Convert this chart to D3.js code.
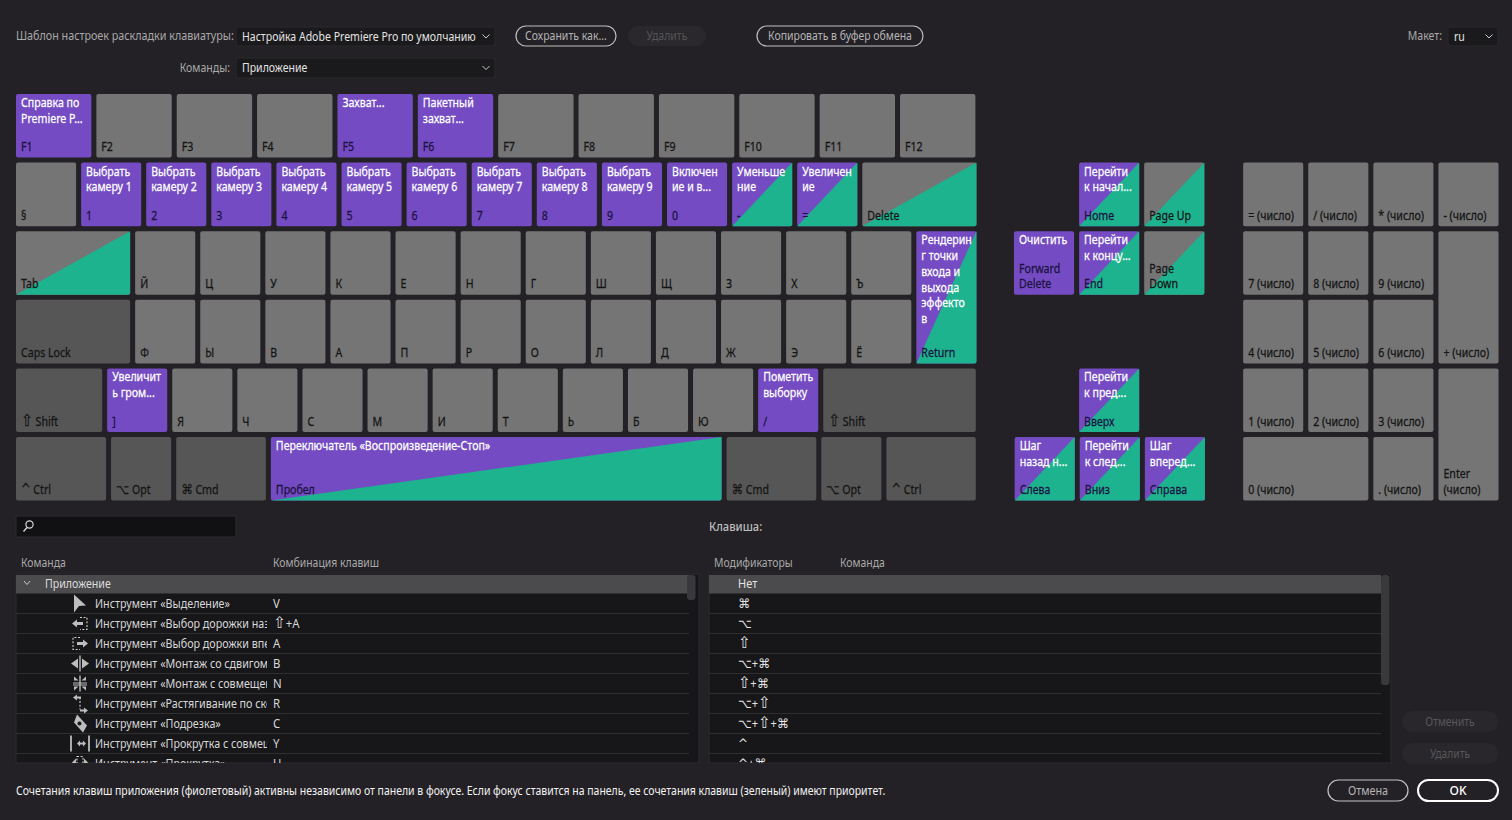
<!DOCTYPE html>
<html>
<head>
<meta charset="utf-8">
<script src="https://cdn.jsdelivr.net/npm/d3@7"></script>
<style>
  html, body { margin: 0; padding: 0; background: #232125; overflow: hidden; }
  svg { display: block; }
  text { font-family: "Noto Sans", "DejaVu Sans", sans-serif; white-space: pre; }
  tspan.sym { font-family: "DejaVu Sans", sans-serif; }
</style>
</head>
<body>
<div id="chart"></div>
<script>
/* ─── Data ─────────────────────────────────────────────────────────── */
const row1Keys = ['F1','F2','F3','F4','F5','F6','F7','F8','F9','F10','F11','F12'];
const row2Keys = ['§','1','2','3','4','5','6','7','8','9','0','-','=','Delete'];
const row3Keys = ['Tab','Й','Ц','У','К','Е','Н','Г','Ш','Щ','З','Х','Ъ','Return'];
const row4Keys = ['Caps Lock','Ф','Ы','В','А','П','Р','О','Л','Д','Ж','Э','Ё'];
const row5Keys = ['⇧ Shift',']','Я','Ч','С','М','И','Т','Ь','Б','Ю','/','⇧ Shift'];
const row6Keys = ['^ Ctrl','⌥ Opt','⌘ Cmd','Пробел','⌘ Cmd','⌥ Opt','^ Ctrl'];
const navRow2Keys = ['Home','Page Up'];
const navRow3Keys = ['Forward\nDelete','End','Page\nDown'];
const navRow5Keys = ['Вверх'];
const navRow6Keys = ['Слева','Вниз','Справа'];
const padRow2Keys = ['= (число)','/ (число)','* (число)','- (число)'];
const padRow3Keys = ['7 (число)','8 (число)','9 (число)','+ (число)'];
const padRow4Keys = ['4 (число)','5 (число)','6 (число)'];
const padRow5Keys = ['1 (число)','2 (число)','3 (число)','Enter\n(число)'];
const padRow6Keys = ['0 (число)','. (число)'];

const darkKeys  = ['Caps Lock','⇧ Shift','^ Ctrl','⌥ Opt','⌘ Cmd'];
const appKeys   = ['F1','F5','F6','1','2','3','4','5','6','7','8','9','0','-','=','Return',']','/','Пробел',
                   'Home','End','Forward\nDelete','Вверх','Слева','Вниз','Справа'];
const panelKeys = ['-','=','Delete','Tab','Return','Пробел','Home','Page Up','End','Page\nDown','Вверх','Слева','Вниз','Справа'];
const commandLabels = [
  'Справка по\nPremiere P...','Захват...','Пакетный\nзахват...',
  'Выбрать\nкамеру 1','Выбрать\nкамеру 2','Выбрать\nкамеру 3','Выбрать\nкамеру 4','Выбрать\nкамеру 5',
  'Выбрать\nкамеру 6','Выбрать\nкамеру 7','Выбрать\nкамеру 8','Выбрать\nкамеру 9','Включен\nие и в...',
  'Уменьше\nние','Увеличен\nие','Рендерин\nг точки\nвхода и\nвыхода\nэффекто\nв','Увеличит\nь гром...',
  'Пометить\nвыборку','Переключатель «Воспроизведение-Стоп»','Перейти\nк начал...','Перейти\nк концу...','Очистить',
  'Перейти\nк пред...','Шаг\nназад н...','Перейти\nк след...','Шаг\nвперед...'
];

const listHeaders = ['Команда','Комбинация клавиш'];
const listGroup = 'Приложение';
// names are cut off by the column in the dialog, only the visible part is kept
const toolNames = ['Инструмент «Выделение»','Инструмент «Выбор дорожки наз','Инструмент «Выбор дорожки впе',
  'Инструмент «Монтаж со сдвигом','Инструмент «Монтаж с совмещен','Инструмент «Растягивание по ско',
  'Инструмент «Подрезка»','Инструмент «Прокрутка с совмещ','Инструмент «Прокрутка»'];
const toolShortcuts = ['V','⇧+A','A','B','N','R','C','Y','U'];
const modifierHeaders = ['Модификаторы','Команда'];
const modifierRows = ['Нет','⌘','⌥','⇧','⌥+⌘','⇧+⌘','⌥+⇧','⌥+⇧+⌘','^','^+⌘'];

const footerText = 'Сочетания клавиш приложения (фиолетовый) активны независимо от панели в фокусе. Если фокус ставится на панель, ее сочетания клавиш (зеленый) имеют приоритет.';

/* ─── Layout ───────────────────────────────────────────────────────── */
const W = 1512, H = 820;
const colors = { bg:'#232125', gray:'#757575', dark:'#565656', purple:'#744bc2', green:'#1db38f',
                 well:'#171618', line:'#2f2e31', head:'#4b4b4d', text:'#a9a9a9', bright:'#e8e8e8' };

const ux = d3.scaleLinear().domain([0, 1]).range([16, 81.1]);   // one key unit
const ry = d3.scaleLinear().domain([0, 1]).range([94, 162.6]);  // one keyboard row
const keyGap = 5, keyH = 63.6, F = 1.2345;

const svg = d3.select('#chart').append('svg')
  .attr('width', W).attr('height', H).attr('viewBox', [0, 0, W, H]);
svg.append('rect').attr('width', W).attr('height', H).attr('fill', colors.bg);

const defs = svg.append('defs');
defs.append('clipPath').attr('id', 'list-clip').append('rect').attr('x', 16).attr('y', 574).attr('width', 1380).attr('height', 189);
defs.append('clipPath').attr('id', 'name-clip').append('rect').attr('x', 16).attr('y', 574).attr('width', 251).attr('height', 189);

/* k squeezes a text horizontally, the dialog uses a condensed face;
   modifier glyphs go to their own tspan since Noto has them too small */
function label(g, x, y, str, opts = {}) {
  const k = opts.k || 1, size = opts.size || 12;
  const t = g.append('text')
    .attr('transform', `translate(${x},${y}) scale(${k},1)`)
    .attr('fill', opts.fill || colors.text)
    .attr('stroke', opts.heavy ? (opts.fill || colors.text) : null)
    .attr('stroke-width', opts.heavy ? 0.25 : null)
    .attr('font-size', size)
    .attr('font-weight', opts.weight || 400)
    .attr('text-anchor', opts.anchor || 'start');
  str.split(/([⇧⌥⌘^])/).filter(s => s).forEach(s => {
    const sym = /[⇧⌥⌘^]/.test(s);
    t.append('tspan').attr('class', sym ? 'sym' : null)
      .attr('font-size', sym ? size + (s === '⇧' ? 4 : 1) : null)
      .text(s);
  });
  return t;
}

/* ─── Keys ─────────────────────────────────────────────────────────── */
function placeRow(names, row, startU, widths = [], span = []) {
  let u = startU;
  return names.map((name, i) => {
    const w = widths[i] || 1;
    const key = { name, x: ux(u), y: ry(row), w: ux(w) - ux(0) - keyGap,
                  h: span[i] ? ry(span[i]) - ry(0) + keyH : keyH };
    u += w;
    return key;
  });
}

const keys = [
  ...placeRow(row1Keys, 0, 0, row1Keys.map(() => F)),
  ...placeRow(row2Keys, 1, 0, [,,,,,,,,,,,,,1.83]),
  ...placeRow(row3Keys, 2, 0, [1.83], [,,,,,,,,,,,,,1]),
  ...placeRow(row4Keys, 3, 0, [1.83]),
  ...placeRow(row5Keys, 4, 0, [1.4,,,,,,,,,,,,2.42]),
  ...placeRow(row6Keys, 5, 0, [1.46,1,1.455,7,1.455,1,1.45]),
  ...placeRow(navRow2Keys, 1, 16.33),
  ...placeRow(navRow3Keys, 2, 15.33),
  ...placeRow(navRow5Keys, 4, 16.33),
  ...placeRow(navRow6Keys, 5, 15.34),
  ...placeRow(padRow2Keys, 1, 18.85),
  ...placeRow(padRow3Keys, 2, 18.85, [], [,,,1]),
  ...placeRow(padRow4Keys, 3, 18.85),
  ...placeRow(padRow5Keys, 4, 18.85, [], [,,,1]),
  ...placeRow(padRow6Keys, 5, 18.85, [2])
];

const keyG = svg.append('g').attr('class', 'keys')
  .selectAll('g').data(keys).join('g')
  .attr('transform', d => `translate(${d.x},${d.y})`);

keyG.append('rect')
  .attr('width', d => d.w).attr('height', d => d.h).attr('rx', 2)
  .attr('fill', d => appKeys.includes(d.name) ? colors.purple
                   : darkKeys.includes(d.name) ? colors.dark : colors.gray);

keyG.filter(d => panelKeys.includes(d.name)).append('path')
  .attr('d', d => `M0,${d.h}L${d.w},0V${d.h - 2}Q${d.w},${d.h} ${d.w - 2},${d.h}Z`)
  .attr('fill', colors.green);

const textK = 0.87;
keyG.each(function (d) {
  const g = d3.select(this);
  // bottom label, wrapped lines grow upward
  const lines = d.name.split('\n');
  lines.forEach((ln, i) => {
    label(g, 5, d.h - 6.5 - (lines.length - 1 - i) * 15.8, ln,
      { k: textK, size: 12.2, fill: appKeys.includes(d.name) ? '#1b1240' : '#141414', heavy: true });
  });
  const idx = appKeys.indexOf(d.name);
  if (idx >= 0) {
    commandLabels[idx].split('\n').forEach((ln, i) => {
      label(g, 5, 13 + i * 15.8, ln, { k: textK, size: 12.2, fill: '#fff', heavy: true });
    });
  }
});

/* ─── Top controls ─────────────────────────────────────────────────── */
const controls = svg.append('g').attr('class', 'controls');

function chevron(g, x, y, w = 3.5, stroke = '#ccc') {
  g.append('path').attr('d', `M${x - w},${y - 2}L${x},${y + 1.5}L${x + w},${y - 2}`)
    .attr('fill', 'none').attr('stroke', stroke).attr('stroke-width', 1);
}
function dropdown(g, x, y, w, h, str) {
  g.append('rect').attr('x', x).attr('y', y).attr('width', w).attr('height', h).attr('rx', 2)
    .attr('fill', '#1a191b').attr('stroke', '#2a292c');
  label(g, x + 6, y + h / 2 + 4, str, { fill: '#e4e4e4', k: 0.878 });
  chevron(g, x + w - 9, y + h / 2);
}
function pill(g, x, y, w, h, str, opts = {}) {
  g.append('rect').attr('x', x).attr('y', y).attr('width', w).attr('height', h).attr('rx', h / 2)
    .attr('fill', opts.fill || 'none').attr('stroke', opts.stroke || 'none').attr('stroke-width', opts.sw || 1.2);
  label(g, x + w / 2, y + h / 2 + 4, str, { fill: opts.color || '#b5b5b5', anchor: 'middle', k: opts.k || 0.875, weight: opts.weight });
}

label(controls, 16, 40, 'Шаблон настроек раскладки клавиатуры:', { k: 0.897 });
dropdown(controls, 236, 27, 259, 19, 'Настройка Adobe Premiere Pro по умолчанию');
pill(controls, 516, 26, 100, 20, 'Сохранить как...', { stroke: '#bdbdbd' });
pill(controls, 628, 26, 78, 20, 'Удалить', { fill: '#2a282c', color: '#565558' });
pill(controls, 757, 26, 166, 20, 'Копировать в буфер обмена', { stroke: '#bdbdbd' });
label(controls, 1442, 40, 'Макет:', { anchor: 'end', k: 0.88 });
dropdown(controls, 1448, 27, 50, 19, 'ru');
label(controls, 230, 72, 'Команды:', { anchor: 'end', k: 0.88 });
dropdown(controls, 236, 58, 259, 20, 'Приложение');

/* ─── Search + key caption ─────────────────────────────────────────── */
const search = svg.append('g').attr('class', 'search');
search.append('rect').attr('x', 16).attr('y', 516).attr('width', 220).attr('height', 21)
  .attr('fill', '#111012').attr('stroke', '#2c2b2e');
search.append('circle').attr('cx', 29.5).attr('cy', 524.5).attr('r', 3.6)
  .attr('fill', 'none').attr('stroke', '#d8d8d8').attr('stroke-width', 1.2);
search.append('line').attr('x1', 27).attr('y1', 527.5).attr('x2', 23.5).attr('y2', 531.5)
  .attr('stroke', '#d8d8d8').attr('stroke-width', 1.4);
label(svg, 709, 531, 'Клавиша:', { k: 0.93, fill: '#bdbdbd', weight: 500 });

/* ─── Lists ────────────────────────────────────────────────────────── */
const rowY = d3.scaleLinear().domain([0, 1]).range([574, 594]);
const listK = 0.87;

function listFrame(x, w) {
  const g = svg.append('g');
  g.append('rect').attr('x', x).attr('y', 574).attr('width', w).attr('height', 189)
    .attr('fill', colors.well).attr('stroke', '#2c2b2e');
  const rows = g.append('g').attr('clip-path', 'url(#list-clip)');
  rows.append('rect').attr('x', x).attr('y', rowY(0) + 1).attr('width', w - 10).attr('height', 18.5).attr('fill', colors.head);
  rows.selectAll('line').data(d3.range(1, 10)).join('line')
    .attr('x1', x).attr('x2', x + w - 10)
    .attr('y1', d => rowY(d + 1) - 0.5).attr('y2', d => rowY(d + 1) - 0.5)
    .attr('stroke', colors.line);
  return rows;
}

const leftRows = listFrame(16, 683);
label(svg, 21, 567, listHeaders[0], { k: listK });
label(svg, 273, 567, listHeaders[1], { k: listK });
chevron(leftRows, 27, 583, 3, '#c8c8c8');
label(leftRows, 45, rowY(0.5) + 4, listGroup, { fill: '#dcdcdc', k: 0.885 });

const nameClip = leftRows.append('g').attr('clip-path', 'url(#name-clip)');
toolNames.forEach((t, i) => {
  label(nameClip, 95, rowY(i + 1.5) + 4, t, { fill: '#d8d8d8', k: 0.895 });
  label(leftRows, 273, rowY(i + 1.5) + 4, toolShortcuts[i], { fill: '#d8d8d8', k: 0.95 });
});

/* tool icons, drawn in a local box around the row centre */
const iconPaths = [
  { fill: 'M-6,-9L6,2L-1,2.5L-6,9Z' },
  { fill: 'M-8,0L-3,-4V-1.5H3V1.5H-3V4Z', dash: 'M0,-6H7V6H0' },
  { fill: 'M8,0L3,-4V-1.5H-3V1.5H3V4Z', dash: 'M0,-6H-7V6H0' },
  { fill: 'M-9,0L-2,-5V5ZM9,0L2,-5V5ZM-.7,-8H.7V8H-.7Z' },
  { fill: 'M-6,-7L-1.5,-3H-6ZM-6,7L-1.5,3H-6ZM6,-7L1.5,-3H6ZM6,7L1.5,3H6ZM-.7,-8H.7V8H-.7ZM-7,-1H7V0H-7ZM-7,1H7V2H-7Z' },
  { fill: 'M-7,-6L-3,-9V-7H1V-5H-3V-3ZM8,7L4,4V6H0V8H4V10Z', dash: 'M0,-6V6' },
  { fill: 'M-3,-9L7,2L3,9L-6,-1Z', hole: 'M-.5,-2a2,2 0 1,0 .01,0' },
  { fill: 'M-3,0L0,-3V-1H3V-3L6,0L3,3V1H0V3Z', bars: 'M-9,-8V8M9,-8V8' },
  { fill: 'M-8,-1L-4,-5V3ZM8,-1L4,-5V3Z', dash: 'M-3,-7H3V7H-3Z' }
];
const iconG = leftRows.selectAll('g.icon').data(iconPaths).join('g')
  .attr('class', 'icon')
  .attr('transform', (d, i) => `translate(80,${rowY(i + 1.5) - 0.5})`);
iconG.append('path').attr('d', d => d.fill).attr('fill', '#bdbdbd');
iconG.filter(d => d.hole).append('path').attr('d', d => d.hole).attr('fill', colors.well);
iconG.filter(d => d.dash).append('path').attr('d', d => d.dash).attr('fill', 'none')
  .attr('stroke', '#cfcfcf').attr('stroke-width', 1.1).attr('stroke-dasharray', '2,1.6');
iconG.filter(d => d.bars).append('path').attr('d', d => d.bars).attr('fill', 'none')
  .attr('stroke', '#cfcfcf').attr('stroke-width', 1.6);

leftRows.append('rect').attr('x', 687).attr('y', 575).attr('width', 8.5).attr('height', 25).attr('rx', 3).attr('fill', '#39383b');

const rightRows = listFrame(709, 682);
label(svg, 714, 567, modifierHeaders[0], { k: listK });
label(svg, 840, 567, modifierHeaders[1], { k: listK });
modifierRows.forEach((m, i) => {
  label(rightRows, 738, rowY(i + 0.5) + 4, m, { fill: '#e4e4e4', k: 0.92 });
});
rightRows.append('rect').attr('x', 1381).attr('y', 575).attr('width', 8.5).attr('height', 110).attr('rx', 3).attr('fill', '#39383b');

/* ─── Bottom ───────────────────────────────────────────────────────── */
const bottom = svg.append('g').attr('class', 'footer');
pill(bottom, 1402, 711, 96, 21, 'Отменить', { fill: '#29272b', color: '#58575a', k: 0.86 });
pill(bottom, 1402, 743, 96, 21, 'Удалить', { fill: '#29272b', color: '#58575a', k: 0.86 });
label(bottom, 16, 795, footerText, { fill: '#f2f2f2', k: 0.873 });
pill(bottom, 1328, 780, 80, 21, 'Отмена', { stroke: '#c4c4c4', k: 0.9 });
pill(bottom, 1418, 780, 80, 21, 'OK', { stroke: '#fff', sw: 2, color: '#fff', weight: 500, k: 1 });
</script>
</body>
</html>
